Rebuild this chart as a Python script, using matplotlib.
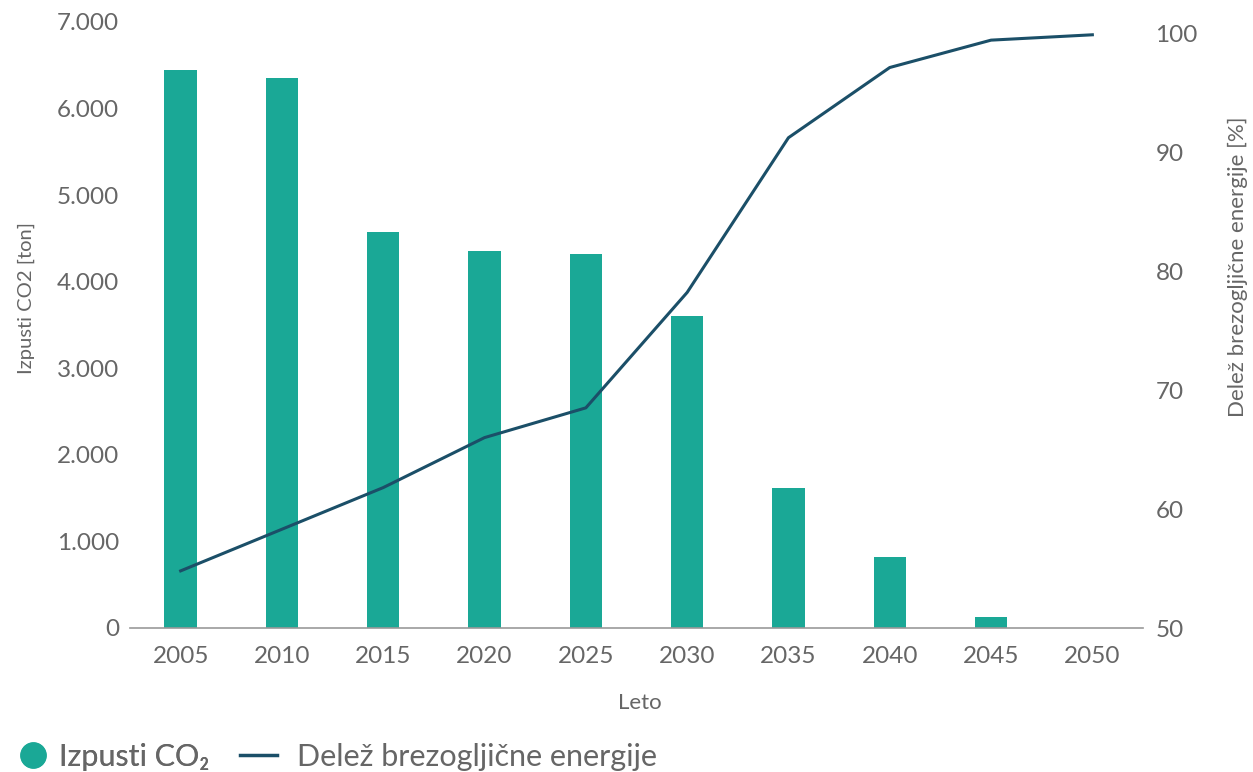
import numpy as np
import matplotlib
matplotlib.use('Agg')
import matplotlib.pyplot as plt
from matplotlib.lines import Line2D
from matplotlib.ticker import FuncFormatter

plt.rcParams['font.family'] = ['Lato', 'DejaVu Sans']

leta = ['2005', '2010', '2015', '2020', '2025', '2030', '2035', '2040', '2045', '2050']
izpusti = [6440, 6350, 4570, 4350, 4320, 3600, 1620, 820, 127, 0]
delez = [54.8, 58.3, 61.8, 66.0, 68.5, 78.2, 91.2, 97.1, 99.4, 99.85]

teal = '#1aa896'
navy = '#1b4f68'
siva = '#666666'

fig = plt.figure(figsize=(12.53, 7.72), dpi=100)
ax = fig.add_axes([130/1253, 1-628/772, 1013/1253, 606/772])
ax2 = ax.twinx()

x = np.arange(len(leta))
ax.bar(x, izpusti, width=0.32, color=teal, zorder=2)
ax2.plot(x, delez, color=navy, lw=2.2, zorder=3)

ax.set_xlim(-0.5, len(leta)-0.5)
ax.set_ylim(0, 7000)
ax.set_yticks(range(0, 7001, 1000))
ax.yaxis.set_major_formatter(FuncFormatter(lambda v, p: f'{int(v):,}'.replace(',', '.')))
ax2.set_ylim(50, 50 + 50*606/595)
ax2.set_yticks(range(50, 101, 10))

ax.set_xticks(x)
ax.set_xticklabels(leta)

for a in (ax, ax2):
    for s in a.spines.values():
        s.set_visible(False)
    a.tick_params(length=0, labelsize=17.5, labelcolor=siva)
ax.spines['bottom'].set_visible(True)
ax.spines['bottom'].set_color('#999999')
ax.spines['bottom'].set_linewidth(1.2)
ax.tick_params(axis='x', pad=13)
ax.tick_params(axis='y', pad=8)
ax2.tick_params(axis='y', pad=9)

ax.set_xlabel('Leto', fontsize=16, color=siva)
ax.xaxis.set_label_coords(0.503, -(693-628)/606)
ax.set_ylabel('Izpusti CO2 [ton]', fontsize=14.5, color=siva)
ax.yaxis.set_label_coords(-(130-35)/1013, (628-298)/606)
ax2.set_ylabel('Delež brezogljične energije [%]', fontsize=16, color=siva)
ax2.yaxis.set_label_coords(1+(1228-1143)/1013, (628-267)/606)

# legenda spodaj, dva dela
y_leg = 1-757/772
l1 = fig.legend([Line2D([], [], marker='o', ls='none', color=teal, markersize=18)],
                ['Izpusti CO₂'], loc='center left', bbox_to_anchor=(7/1253, y_leg),
                borderaxespad=0, frameon=False, fontsize=22, labelcolor=siva,
                handlelength=0.9, handletextpad=0.4)
fig.add_artist(l1)
fig.legend([Line2D([], [], color=navy, lw=2.5)], ['Delež brezogljične energije'],
           loc='center left', bbox_to_anchor=(228/1253, y_leg), borderaxespad=0,
           frameon=False, fontsize=22, labelcolor=siva, handlelength=1.2,
           handletextpad=0.65)

fig.savefig('out.png', dpi=100)
